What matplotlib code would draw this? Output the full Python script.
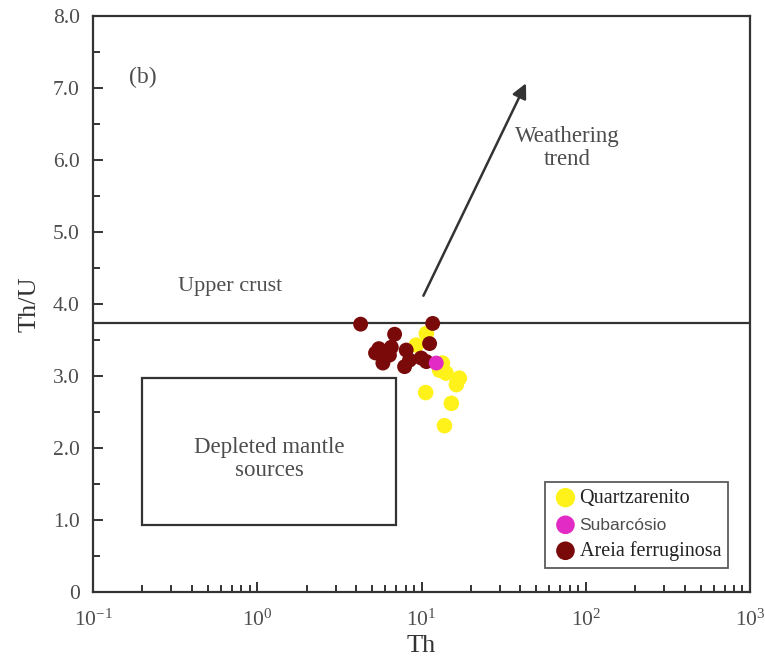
import matplotlib
matplotlib.use("Agg")
import matplotlib.pyplot as plt
from matplotlib.patches import Rectangle
from matplotlib.ticker import LogLocator, MultipleLocator

plt.rcParams['font.family'] = ['Liberation Serif', 'DejaVu Serif']
plt.rcParams['mathtext.fontset'] = 'custom'
plt.rcParams['mathtext.rm'] = 'Liberation Serif'

# Th (ppm) vs Th/U
qtz_th = [10.7, 9.3, 12.9, 14.1, 17.0, 16.3, 10.6, 15.2, 13.8, 13.4]
qtz_thu = [3.59, 3.43, 3.08, 3.04, 2.97, 2.88, 2.77, 2.62, 2.31, 3.18]

sub_th = [12.3]
sub_thu = [3.18]

fer_th = [4.26, 11.7, 6.86, 5.50, 6.55, 5.82, 5.82, 8.07, 8.45, 7.89, 11.2, 9.95, 10.7, 6.38, 5.25]
fer_thu = [3.72, 3.73, 3.58, 3.38, 3.40, 3.29, 3.18, 3.36, 3.22, 3.13, 3.45, 3.25, 3.20, 3.29, 3.32]

upper_crust = 3.74
mantle_th = [0.2, 7.0]
mantle_thu = [0.93, 2.97]
trend_start = (10.1, 4.08)
trend_end = (44.0, 7.10)

yticks = [0, 1, 2, 3, 4, 5, 6, 7, 8]
ylabels = ['0', '1.0', '2.0', '3.0', '4.0', '5.0', '6.0', '7.0', '8.0']

fig = plt.figure(figsize=(7.65, 6.61), dpi=100)
ax = fig.add_axes([93 / 765, 1 - 592 / 661, 657 / 765, 576 / 661])
ax.set_xscale('log')
ax.set_xlim(0.1, 1000)
ax.set_ylim(0, 8)

dark = '#333333'
grey = '#4d4d4d'

ax.axhline(upper_crust, color=dark, lw=1.6, zorder=1)
ax.add_patch(Rectangle((mantle_th[0], mantle_thu[0]), mantle_th[1] - mantle_th[0],
                       mantle_thu[1] - mantle_thu[0], fill=False, ec=dark, lw=1.6))

ax.annotate('', xy=trend_end, xytext=trend_start,
            arrowprops=dict(arrowstyle='-|>', lw=1.8, color=dark, mutation_scale=22))

ax.scatter(qtz_th, qtz_thu, s=125, color='#FFF21A', edgecolors='none', zorder=3, label='Quartzarenito')
ax.scatter(fer_th, fer_thu, s=115, color='#7A0A0A', edgecolors='none', zorder=4, label='Areia ferruginosa')
ax.scatter(sub_th, sub_thu, s=115, color='#E22BC4', edgecolors='none', zorder=5, label='Subarcósio')

ax.text(0.2, 7.15, '(b)', fontsize=17, color=grey, ha='center', va='center')
ax.text(0.68, 4.24, 'Upper crust', fontsize=16, color=grey, ha='center', va='center')
ax.text(1.18, 1.85, 'Depleted mantle\nsources', fontsize=16.5, color=grey,
        ha='center', va='center', linespacing=1.15)
ax.text(77, 6.17, 'Weathering\ntrend', fontsize=16.5, color=grey,
        ha='center', va='center', linespacing=1.15)

h, l = ax.get_legend_handles_labels()
order = [0, 2, 1]
leg = ax.legend([h[i] for i in order], [l[i] for i in order], loc='lower right',
                fontsize=14.5, frameon=True, fancybox=False, edgecolor=dark,
                handletextpad=0.05, borderpad=0.35, labelspacing=0.4,
                bbox_to_anchor=(0.982, 0.024), handlelength=1.3, markerscale=1.25)
leg.get_frame().set_linewidth(1.3)
for t in leg.get_texts():
    t.set_color('#222222')
leg.get_texts()[1].set_fontfamily('Liberation Sans')
leg.get_texts()[1].set_fontsize(12.5)
leg.get_texts()[1].set_color(grey)

ax.xaxis.set_major_locator(LogLocator(base=10, numticks=10))
ax.xaxis.set_minor_locator(LogLocator(base=10, subs=range(2, 10), numticks=20))
ax.set_yticks(yticks)
ax.set_yticklabels(ylabels)
ax.yaxis.set_minor_locator(MultipleLocator(0.5))

ax.tick_params(which='both', direction='in', top=False, right=False,
               colors=dark, labelcolor=grey, labelsize=15.5, width=1.4)
ax.tick_params(which='major', length=7)
ax.tick_params(axis='x', which='major', pad=13)
ax.tick_params(axis='y', which='major', pad=9.5)
ax.tick_params(which='minor', length=5)
for s in ax.spines.values():
    s.set_linewidth(1.6)
    s.set_color(dark)

ax.set_xlabel('Th', fontsize=19, color=dark, labelpad=3)
ax.set_ylabel('Th/U', fontsize=19, color=dark, labelpad=9)

fig.savefig('out.png', dpi=100)
